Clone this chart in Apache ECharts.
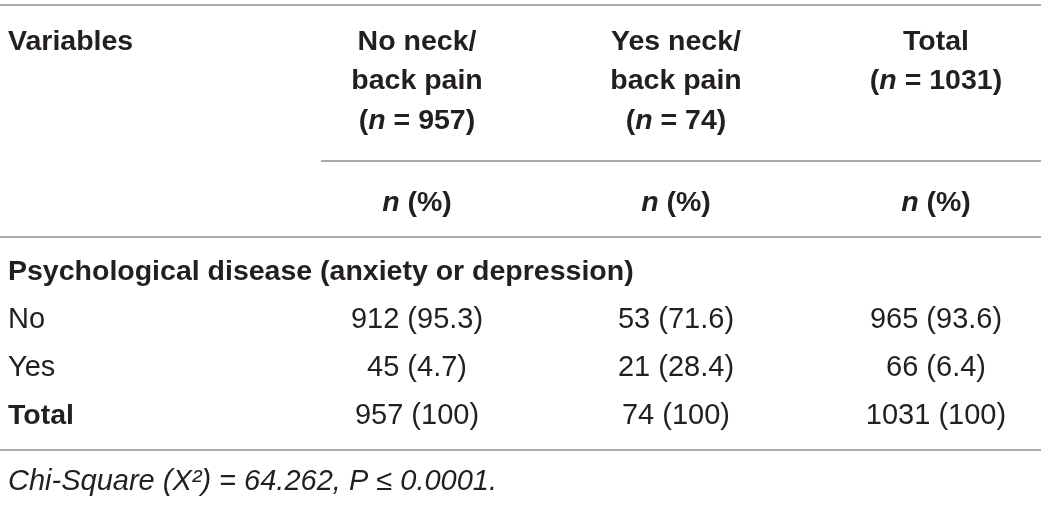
<!DOCTYPE html>
<html>
<head>
<meta charset="utf-8">
<script src="https://cdn.jsdelivr.net/npm/echarts@6/dist/echarts.min.js"></script>
<style>
	html, body { margin: 0; padding: 0; background: #fff; }
	#main { width: 1041px; height: 505px; }
</style>
</head>
<body>
<div id="main"></div>
<script>
// table content
var firstHeader = 'Variables';
var groupLabels = ['No neck/\nback pain', 'Yes neck/\nback pain', 'Total'];
var groupN = [957, 74, 1031];
var unitLabel = '(%)';
var sectionTitle = 'Psychological disease (anxiety or depression)';
var rowLabels = ['No', 'Yes', 'Total'];
var noPainCounts = [912, 45, 957];
var noPainPct = [95.3, 4.7, 100];
var yesPainCounts = [53, 21, 74];
var yesPainPct = [71.6, 28.4, 100];
var totalCounts = [965, 66, 1031];
var totalPct = [93.6, 6.4, 100];
var footnote = 'Chi-Square (X\u00b2) = 64.262, P \u2264 0.0001.';

var FONT = '"Liberation Sans", Arial, Helvetica, sans-serif';
var INK = '#231f20';
var RULE = '#8c8c8c';
var BOLD_SIZE = 28.5;
var SIZE = 29;

var colX = [417, 676, 936];
var leftX = 8;
var headLineY = [42, 81.5, 121];
var unitY = 203;
var sectionY = 272;
var rowY = [320, 368, 416];
var footY = 482;

var rich = {
	b: { fontFamily: FONT, fontSize: BOLD_SIZE, fontWeight: 'bold', fill: INK },
	bi: { fontFamily: FONT, fontSize: BOLD_SIZE, fontWeight: 'bold', fontStyle: 'italic', fill: INK }
};

function txt(x, y, text, opts) {
	opts = opts || {};
	return {
		type: 'text',
		x: x,
		y: y,
		style: {
			text: text,
			fontFamily: FONT,
			fontSize: opts.size || SIZE,
			fontWeight: opts.weight || 'normal',
			fontStyle: opts.style || 'normal',
			fill: INK,
			align: opts.align || 'left',
			verticalAlign: 'middle',
			rich: opts.rich
		}
	};
}

function rule(x1, x2, y) {
	return {
		type: 'line',
		shape: { x1: x1, y1: y, x2: x2, y2: y },
		style: { stroke: RULE, lineWidth: 1.5 }
	};
}

var elements = [];

elements.push(rule(0, 1041, 5));
elements.push(rule(321, 1041, 161));
elements.push(rule(0, 1041, 237));
elements.push(rule(0, 1041, 450));

elements.push(txt(leftX, headLineY[0], firstHeader, { weight: 'bold', size: BOLD_SIZE }));

groupLabels.forEach(function (label, c) {
	var lines = label.split('\n');
	lines.push('{b|(}{bi|n}{b| = ' + groupN[c] + ')}');
	lines.forEach(function (line, i) {
		elements.push(txt(colX[c], headLineY[i], line, { weight: 'bold', size: BOLD_SIZE, align: 'center', rich: rich }));
	});
	elements.push(txt(colX[c], unitY, '{bi|n}{b| ' + unitLabel + '}', { weight: 'bold', size: BOLD_SIZE, align: 'center', rich: rich }));
});

elements.push(txt(leftX, sectionY, sectionTitle, { weight: 'bold', size: BOLD_SIZE }));

var cols = [[noPainCounts, noPainPct], [yesPainCounts, yesPainPct], [totalCounts, totalPct]];
rowLabels.forEach(function (label, r) {
	var isTotal = r === rowLabels.length - 1;
	elements.push(txt(leftX, rowY[r], label, isTotal ? { weight: 'bold', size: BOLD_SIZE } : {}));
	cols.forEach(function (col, c) {
		elements.push(txt(colX[c], rowY[r], col[0][r] + ' (' + col[1][r] + ')', { align: 'center' }));
	});
});

elements.push(txt(leftX, footY, footnote, { style: 'italic' }));

var myChart = echarts.init(document.getElementById('main'), null, { renderer: 'canvas' });
myChart.setOption({
	backgroundColor: '#fff',
	animation: false,
	graphic: { elements: elements }
});
</script>
</body>
</html>
